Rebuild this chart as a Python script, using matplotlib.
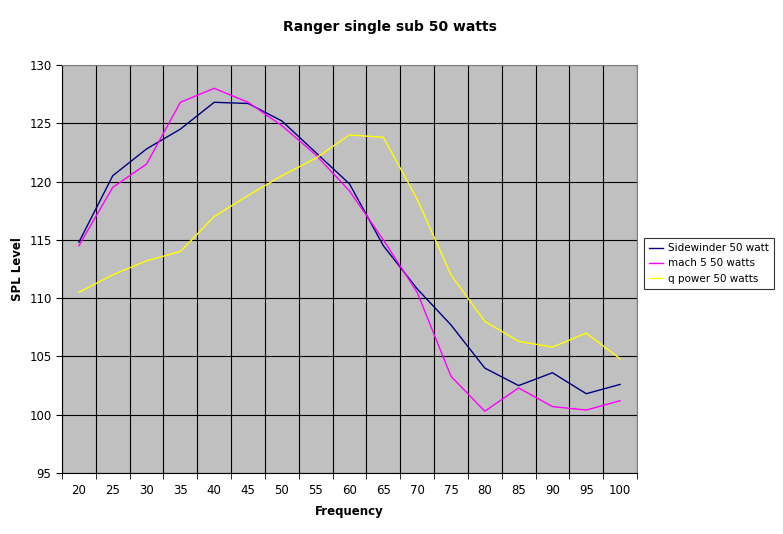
import matplotlib
matplotlib.use("Agg")
import matplotlib.pyplot as plt

freqs = [20,25,30,35,40,45,50,55,60,65,70,75,80,85,90,95,100]
sidewinder = [114.8,120.5,122.8,124.5,126.8,126.7,125.2,122.5,119.8,114.5,110.8,107.7,104.0,102.5,103.6,101.8,102.6]
mach5 = [114.5,119.5,121.5,126.8,128.0,126.8,124.8,122.3,119.2,115.0,110.5,103.3,100.3,102.3,100.7,100.4,101.2]
qpower = [110.5,112.0,113.2,114.0,117.0,118.8,120.5,122.0,124.0,123.8,118.5,112.0,108.0,106.3,105.8,107.0,104.8]

fig = plt.figure(figsize=(7.83,5.34), dpi=100)
ax = fig.add_axes([62/783, 1-473/534, 575/783, 408/534])
ax.set_facecolor('#c0c0c0')
x = list(range(len(freqs)))
ax.plot(x, sidewinder, color='#000080', lw=1, label='Sidewinder 50 watt')
ax.plot(x, mach5, color='#ff00ff', lw=1, label='mach 5 50 watts')
ax.plot(x, qpower, color='#ffff00', lw=1, label='q power 50 watts')
ax.set_xlim(-0.5, len(freqs)-0.5)
ax.set_ylim(95,130)
ax.set_yticks(range(95,131,5))
ax.set_xticks(x)
ax.set_xticklabels([str(f) for f in freqs])
ax.set_xticks([i-0.5 for i in range(len(freqs)+1)], minor=True)
ax.tick_params(axis='x', which='major', length=0, labelsize=8.5, pad=8)
ax.tick_params(axis='x', which='minor', length=4, direction='out')
ax.tick_params(axis='y', labelsize=8.5, length=4)
ax.grid(True, axis='y', color='black', lw=0.8)
ax.grid(True, axis='x', which='minor', color='black', lw=0.8)
for s in ax.spines.values():
    s.set_color('#808080')
ax.spines['left'].set_color('black'); ax.spines['bottom'].set_color('black')
ax.set_xlabel('Frequency', fontsize=8.5, fontweight='bold', labelpad=6)
ax.set_ylabel('SPL Level', fontsize=8.5, fontweight='bold')
fig.suptitle('Ranger single sub 50 watts', x=390/783, y=1-20/534, fontsize=10, fontweight='bold')
leg = fig.legend(loc='upper left', bbox_to_anchor=(644/783, 1-238/534), fontsize=7.5, frameon=True,
                 fancybox=False, edgecolor='black', handlelength=1.3, handletextpad=0.5,
                 borderpad=0.5, borderaxespad=0)
leg.get_frame().set_linewidth(0.8)
fig.savefig('out.png', dpi=100, facecolor='white')
